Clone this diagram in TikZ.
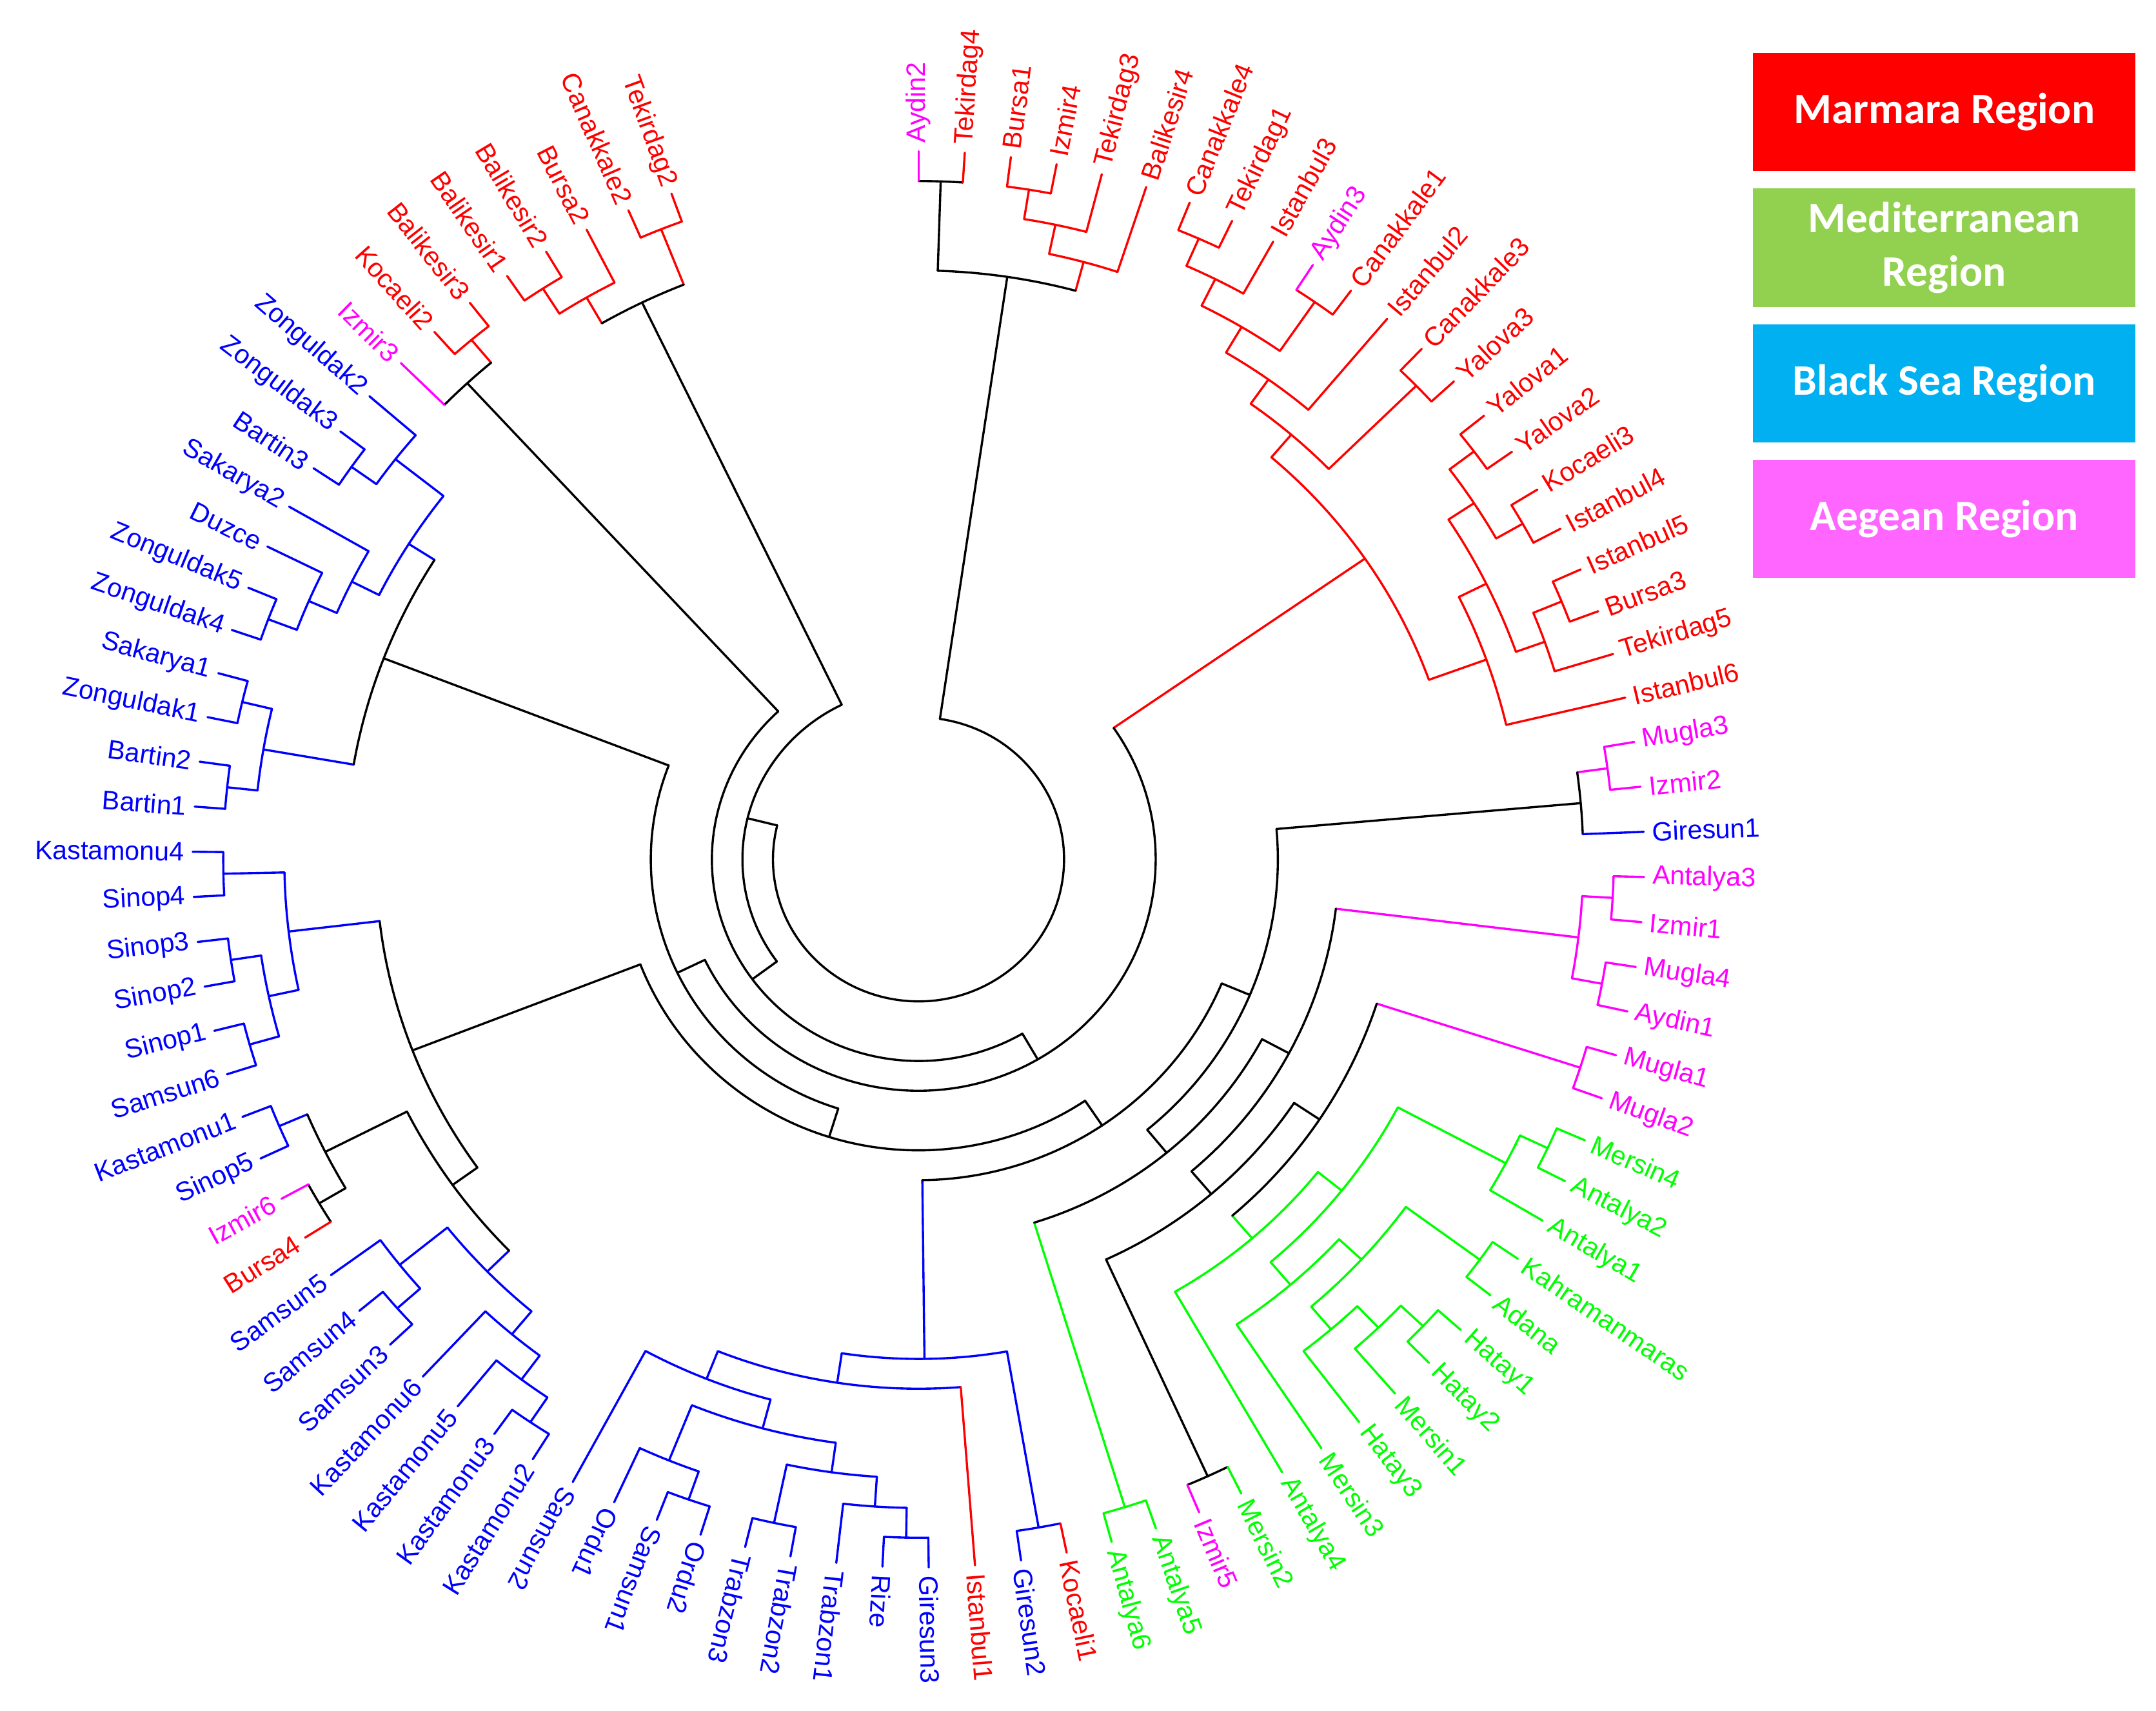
\documentclass[tikz,border=0pt]{standalone}
\usepackage{fontspec}
\setmainfont{Liberation Sans}
\newfontfamily\legfont{Carlito}
\usetikzlibrary{positioning}

\definecolor{marm}{RGB}{255,0,0}
\definecolor{medi}{RGB}{0,255,0}
\definecolor{blks}{RGB}{0,0,255}
\definecolor{aege}{RGB}{255,0,255}
\definecolor{marmbox}{RGB}{255,0,0}
\definecolor{medibox}{RGB}{146,208,80}
\definecolor{blksbox}{RGB}{0,176,240}
\definecolor{aegebox}{RGB}{255,102,255}

\tikzset{
  br/.style={line width=0.9pt, line cap=round},
  lbl/.style={font=\fontsize{11}{13}\selectfont, inner sep=0pt, outer sep=0pt},
  legbox/.style={minimum width=5.56cm, minimum height=1.72cm, inner sep=0pt,
    text=white, align=center, font=\legfont\bfseries\fontsize{18}{22}\selectfont},
}

\begin{document}
\begin{tikzpicture}[x=0.02cm, y=0.02cm]
  \useasboundingbox (0,-1244) rectangle (1568,0);

  \begin{scope}[shift={(668,-625)}, xscale=1.025]
    % clades: first child, last child, level, parent level, colour
    \foreach \p/\q/\lv/\lp/\col in {
      1/2/1/4/black, 3/4/1/2/marm, 3.5/5/2/3/marm, 4.25/6/3/4/marm, 1.5/5.125/4/19/black,
      7/8/1/2/marm, 7.5/9/2/3/marm, 10/11/1/3/marm, 8.25/10.5/3/4/marm, 9.375/12/4/5/marm,
      13/14/1/5/marm, 10.6875/13.5/5/6/marm, 15/16/1/2/marm, 17/18/1/2/marm,
      15.5/17.5/2/3/marm, 19/20/1/2/marm, 19.5/21/2/3/marm, 16.5/20.25/3/4/marm,
      18.375/22/4/6/marm, 12.094/20.1875/6/16/marm,
      23/24/1/2/aege, 23.5/25/2/12/black,
      26/27/1/2/aege, 28/29/1/2/aege, 26.5/28.5/2/10/aege, 30/31/1/8/aege,
      32/33/1/2/medi, 32.5/34/2/6/medi, 35/36/1/4/medi, 37/38/1/2/medi, 37.5/39/2/3/medi,
      38.25/40/3/4/medi, 35.5/39.125/4/5/medi, 37.3125/41/5/6/medi, 33.25/39.156/6/7/medi,
      36.203/42/7/8/medi,
      43/44/1/9/black, 45/46/1/11/medi,
      30.5/39.102/8/9/black, 34.801/43.5/9/10/black, 27.5/39.15/10/11/black,
      33.325/45.5/11/12/black, 24.25/39.413/12/13/black,
      47/48/1/7/blks, 50/51/1/2/blks, 50.5/52/2/3/blks, 53/54/1/3/blks, 51.25/53.5/3/4/blks,
      55/56/1/2/blks, 55.5/57/2/4/blks, 52.375/56.25/4/5/blks, 54.3125/58/5/6/blks,
      49/56.156/6/7/blks, 47.5/52.578/7/13/blks, 31.831/50.039/13/14/black,
      59/60/1/2/blks, 59.5/61/2/3/blks, 60.25/62/3/4/blks, 63/64/1/2/blks, 63.5/65/2/4/blks,
      61.125/64.25/4/5/blks, 66/67/1/2/black, 68/69/1/2/blks, 66.5/68.5/2/5/black,
      62.6875/67.5/5/6/black,
      70/71/1/2/blks, 72/73/1/2/blks, 70.5/72.5/2/3/blks, 74/75/1/3/blks, 71.5/74.5/3/6/blks,
      65.094/73/6/14/black, 40.935/69.047/14/15/black,
      76/77/1/2/blks, 78/79/1/2/blks, 76.5/78.5/2/5/blks, 80/81/1/2/blks, 80.5/82/2/3/blks,
      81.25/83/3/4/blks, 84/85/1/2/blks, 84.5/86/2/4/blks, 82.125/85.25/4/5/blks,
      77.5/83.6875/5/15/black, 54.991/80.594/15/16/black, 16.141/67.793/16/17/black,
      88/89/1/2/marm, 87/88.5/2/17/black, 41.967/87.75/17/18/black,
      90/91/1/2/marm, 90.5/92/2/3/marm, 93/94/1/3/marm, 91.25/93.5/3/18/black,
      64.858/92.375/18/19/black, 3.3125/78.617/19/19/black} {
      \pgfmathsetmacro\ta{93.657-3.657*\p}
      \pgfmathsetmacro\tb{93.657-3.657*\q}
      \pgfmathsetmacro\tm{(\ta+\tb)/2}
      \pgfmathsetmacro\rr{515-21.67*\lv}
      \pgfmathsetmacro\rp{515-21.67*\lp}
      \draw[br,\col] (\ta:\rr) arc[start angle=\ta, end angle=\tb, radius=\rr];
      \draw[br,\col] (\tm:\rr) -- (\tm:\rp);
    }

    % leaves
    \foreach \i/\nm/\col/\lp in {
      1/Aydin2/aege/1, 2/Tekirdag4/marm/1, 3/Bursa1/marm/1, 4/Izmir4/marm/1,
      5/Tekirdag3/marm/2, 6/Balikesir4/marm/3, 7/Canakkale4/marm/1, 8/Tekirdag1/marm/1,
      9/Istanbul3/marm/2, 10/Aydin3/aege/1, 11/Canakkale1/marm/1, 12/Istanbul2/marm/4,
      13/Canakkale3/marm/1, 14/Yalova3/marm/1, 15/Yalova1/marm/1, 16/Yalova2/marm/1,
      17/Kocaeli3/marm/1, 18/Istanbul4/marm/1, 19/Istanbul5/marm/1, 20/Bursa3/marm/1,
      21/Tekirdag5/marm/2, 22/Istanbul6/marm/4, 23/Mugla3/aege/1, 24/Izmir2/aege/1,
      25/Giresun1/blks/2, 26/Antalya3/aege/1, 27/Izmir1/aege/1, 28/Mugla4/aege/1,
      29/Aydin1/aege/1, 30/Mugla1/aege/1, 31/Mugla2/aege/1, 32/Mersin4/medi/1,
      33/Antalya2/medi/1, 34/Antalya1/medi/2, 35/Kahramanmaras/medi/1, 36/Adana/medi/1,
      37/Hatay1/medi/1, 38/Hatay2/medi/1, 39/Mersin1/medi/2, 40/Hatay3/medi/3,
      41/Mersin3/medi/5, 42/Antalya4/medi/7, 43/Mersin2/medi/1, 44/Izmir5/aege/1,
      45/Antalya5/medi/1, 46/Antalya6/medi/1, 47/Kocaeli1/marm/1, 48/Giresun2/blks/1,
      49/Istanbul1/marm/6, 50/Giresun3/blks/1, 51/Rize/blks/1, 52/Trabzon1/blks/2,
      53/Trabzon2/blks/1, 54/Trabzon3/blks/1, 55/Ordu2/blks/1, 56/Samsun1/blks/1,
      57/Ordu1/blks/2, 58/Samsun2/blks/5, 59/Kastamonu2/blks/1, 60/Kastamonu3/blks/1,
      61/Kastamonu5/blks/2, 62/Kastamonu6/blks/3, 63/Samsun3/blks/1, 64/Samsun4/blks/1,
      65/Samsun5/blks/2, 66/Bursa4/marm/1, 67/Izmir6/aege/1, 68/Sinop5/blks/1,
      69/Kastamonu1/blks/1, 70/Samsun6/blks/1, 71/Sinop1/blks/1, 72/Sinop2/blks/1,
      73/Sinop3/blks/1, 74/Sinop4/blks/1, 75/Kastamonu4/blks/1, 76/Bartin1/blks/1,
      77/Bartin2/blks/1, 78/Zonguldak1/blks/1, 79/Sakarya1/blks/1, 80/Zonguldak4/blks/1,
      81/Zonguldak5/blks/1, 82/Duzce/blks/2, 83/Sakarya2/blks/3, 84/Bartin3/blks/1,
      85/Zonguldak3/blks/1, 86/Zonguldak2/blks/2, 87/Izmir3/aege/2, 88/Kocaeli2/marm/1,
      89/Balikesir3/marm/1, 90/Balikesir1/marm/1, 91/Balikesir2/marm/1, 92/Bursa2/marm/2,
      93/Canakkale2/marm/1, 94/Tekirdag2/marm/1} {
      \pgfmathsetmacro\ta{93.657-3.657*\i}
      \pgfmathsetmacro\tf{\ta+180}
      \pgfmathsetmacro\rp{515-21.67*\lp}
      \draw[br,\col] (\ta:\rp) -- (\ta:515);
      \ifnum\i>58
        \node[lbl, text=\col, anchor=east, rotate=\tf] (\nm) at (\ta:521) {\nm};
      \else
        \node[lbl, text=\col, anchor=west, rotate=\ta] (\nm) at (\ta:521) {\nm};
      \fi
    }
  \end{scope}

  % legend
  \node[legbox, fill=marmbox] (marmara) at (1414,-81.4) {Marmara Region};
  \node[legbox, fill=medibox, below=0.24cm of marmara] (mediterranean) {Mediterranean\\Region};
  \node[legbox, fill=blksbox, below=0.24cm of mediterranean] (blacksea) {Black Sea Region};
  \node[legbox, fill=aegebox, below=0.24cm of blacksea] (aegean) {Aegean Region};
\end{tikzpicture}
\end{document}
